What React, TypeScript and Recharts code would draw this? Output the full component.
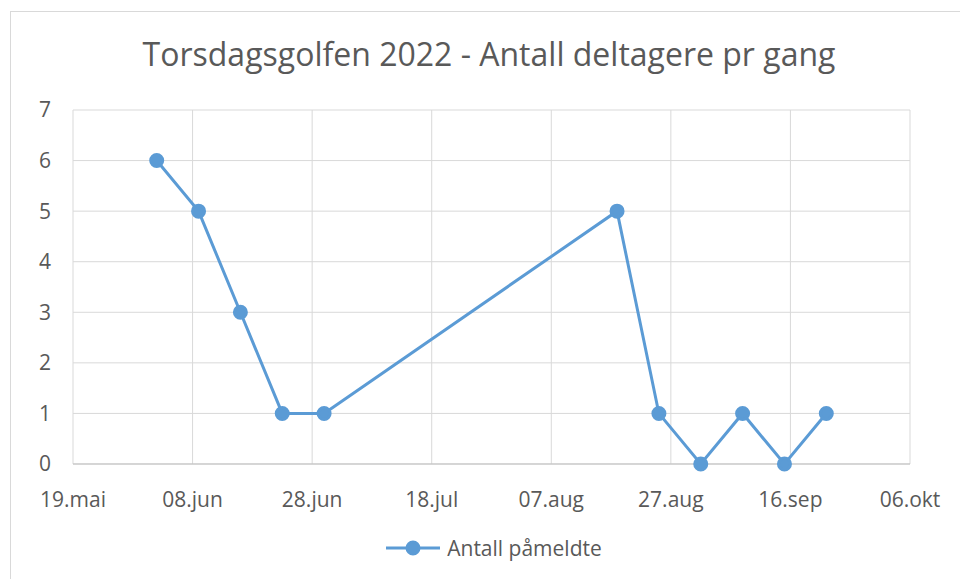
import React from "react";
import { LineChart, Line, XAxis, YAxis, CartesianGrid, Legend } from "recharts";

const startDate = "2022-05-19";
const dates = [
  "2022-06-02",
  "2022-06-09",
  "2022-06-16",
  "2022-06-23",
  "2022-06-30",
  "2022-08-18",
  "2022-08-25",
  "2022-09-01",
  "2022-09-08",
  "2022-09-15",
  "2022-09-22",
];
const participants = [6, 5, 3, 1, 1, 5, 1, 0, 1, 0, 1];
const xTickDays = [0, 20, 40, 60, 80, 100, 120, 140];
const xTickLabels = ["19.mai", "08.jun", "28.jun", "18.jul", "07.aug", "27.aug", "16.sep", "06.okt"];
const yTicks = [0, 1, 2, 3, 4, 5, 6, 7];
const seriesName = "Antall påmeldte";
const title = "Torsdagsgolfen 2022 - Antall deltagere pr gang";

const DAY = 24 * 3600 * 1000;
const dayOffset = (d: string) => Math.round((Date.parse(d) - Date.parse(startDate)) / DAY);

const data = dates.map((d, i) => ({ day: dayOffset(d), value: participants[i] }));

const FONT = "'Open Sans', sans-serif";
const TEXT = "#595959";
const BLUE = "#5b9bd5";

const LegendContent = () => (
  <div
    style={{
      display: "flex",
      justifyContent: "center",
      alignItems: "center",
      height: 24,
      paddingLeft: 66,
      fontFamily: FONT,
      fontSize: 21,
      color: TEXT,
    }}
  >
    <svg width={56} height={20} style={{ marginRight: 6 }}>
      <line x1={1} y1={10} x2={55} y2={10} stroke={BLUE} strokeWidth={3} />
      <circle cx={28} cy={10} r={6} fill={BLUE} stroke={BLUE} strokeWidth={3} />
    </svg>
    <span>{seriesName}</span>
  </div>
);

export default function App() {
  return (
    <div style={{ position: "fixed", left: 0, top: 0, width: 960, height: 579, overflow: "hidden", background: "#fff" }}>
      <div
        style={{
          position: "absolute",
          left: 10,
          top: 11,
          width: 960,
          height: 580,
          border: "1px solid #d9d9d9",
          background: "#fff",
        }}
      >
        <div
          style={{
            position: "absolute",
            left: 0,
            width: 956,
            top: 26,
            textAlign: "center",
            fontFamily: FONT,
            fontSize: 32,
            lineHeight: "32px",
            color: TEXT,
            whiteSpace: "nowrap",
          }}
        >
          {title}
        </div>
        <LineChart width={960} height={580} data={data} margin={{ top: 98, right: 61, bottom: 32, left: 0 }}>
          <CartesianGrid stroke="#d9d9d9" strokeWidth={1} />
          <XAxis
            dataKey="day"
            type="number"
            domain={[0, 140]}
            ticks={xTickDays}
            tickFormatter={(v: number) => xTickLabels[xTickDays.indexOf(v)]}
            height={72}
            tickLine={false}
            tickSize={0}
            tickMargin={28}
            axisLine={{ stroke: "#bfbfbf", strokeWidth: 1 }}
            tick={{ fill: TEXT, fontFamily: FONT, fontSize: 21 }}
            interval={0}
          />
          <YAxis
            type="number"
            domain={[0, 7]}
            ticks={yTicks}
            width={62}
            axisLine={false}
            tickLine={false}
            tickSize={0}
            tickMargin={22}
            tick={{ fill: TEXT, fontFamily: FONT, fontSize: 21 }}
            interval={0}
          />
          <Legend verticalAlign="bottom" align="center" content={<LegendContent />} />
          <Line
            type="linear"
            dataKey="value"
            name={seriesName}
            stroke={BLUE}
            strokeWidth={3}
            dot={{ r: 6, fill: BLUE, stroke: BLUE, strokeWidth: 3 }}
            activeDot={false}
            isAnimationActive={false}
          />
        </LineChart>
      </div>
    </div>
  );
}
